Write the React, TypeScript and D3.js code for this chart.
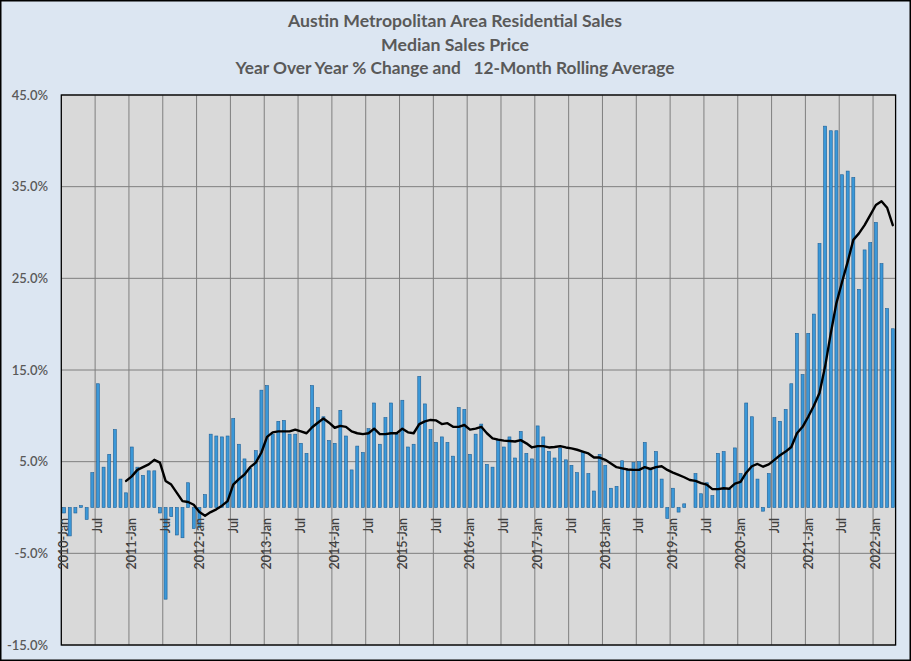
import React from "react";
import * as d3 from "d3";

// ---- data ----
const years = [2010, 2011, 2012, 2013, 2014, 2015, 2016, 2017, 2018, 2019, 2020, 2021, 2022];
const monthNames = ["Jan", "Feb", "Mar", "Apr", "May", "Jun", "Jul", "Aug", "Sep", "Oct", "Nov", "Dec"];

// Year-over-year % change of median sales price (monthly, 2010-Jan .. 2022-Apr)
const yoyChange = [
  -0.6, -3.1, -0.6, 0.2, -1.3, 3.8, 13.5, 4.4, 5.8, 8.5, 3.1, 1.6,
  6.6, 4.4, 3.5, 4.0, 4.0, -0.6, -10.0, -1.0, -3.0, -3.3, 2.7, -2.3,
  -2.2, 1.4, 8.0, 7.8, 7.7, 7.8, 9.7, 6.9, 5.3, 4.3, 6.2, 12.8,
  13.3, 8.0, 9.4, 9.5, 8.0, 8.0, 7.0, 5.9, 13.3, 10.9, 9.9, 7.3,
  7.0, 10.6, 7.8, 4.1, 6.7, 6.0, 8.6, 11.4, 6.9, 9.8, 11.4, 8.0,
  11.7, 6.6, 6.9, 14.3, 11.3, 8.5, 7.1, 7.7, 7.1, 5.6, 10.9, 10.7,
  5.8, 8.0, 9.1, 4.7, 4.4, 7.3, 6.6, 7.7, 5.4, 8.3, 5.9, 5.3,
  8.9, 7.7, 6.1, 5.4, 6.5, 5.2, 4.6, 3.8, 6.1, 3.7, 1.8, 5.8,
  4.6, 2.1, 2.3, 5.1, 4.1, 4.9, 5.0, 7.1, 4.2, 6.1, 3.1, -1.2,
  2.1, -0.5, 0.4, 0.0, 3.7, 1.5, 2.7, 1.3, 5.9, 6.1, 2.0, 6.5,
  3.7, 11.4, 9.9, 3.1, -0.4, 3.7, 9.8, 9.4, 10.7, 13.5, 19.0, 14.5,
  19.0, 21.1, 28.8, 41.6, 41.1, 41.1, 36.3, 36.7, 36.0, 23.8, 28.1, 28.9,
  31.1, 26.6, 21.7, 19.5,
];

// 12-month rolling average, starting at 2010-Dec (index 11)
const rollingStartIndex = 11;
const rollingAvg = [
  2.9,
  3.4, 4.1, 4.4, 4.7, 5.2, 4.9, 2.9, 2.5, 1.6, 0.7, 0.6, 0.3,
  -0.5, -0.9, -0.5, -0.2, 0.2, 0.7, 2.5, 3.1, 3.6, 4.4, 4.9, 6.0,
  7.7, 8.2, 8.3, 8.3, 8.3, 8.5, 8.3, 8.1, 8.75, 9.25, 9.7, 9.25,
  8.7, 8.9, 8.8, 8.3, 8.1, 8.0, 8.1, 8.6, 8.0, 8.0, 8.1, 8.1,
  8.6, 8.2, 8.1, 9.1, 9.4, 9.55, 9.5, 9.1, 9.2, 8.8, 8.8, 9.0,
  8.5, 8.6, 8.8, 8.1, 7.55, 7.4, 7.3, 7.25, 7.2, 7.35, 7.0, 6.55,
  6.7, 6.7, 6.55, 6.6, 6.7, 6.55, 6.45, 6.3, 6.1, 5.9, 5.45, 5.45,
  5.2, 4.8, 4.4, 4.27, 4.15, 4.1, 4.1, 4.4, 4.2, 4.4, 4.5, 4.1,
  3.8, 3.55, 3.3, 3.0, 2.9, 2.65, 2.5, 2.0, 2.0, 2.1, 2.05, 2.6,
  2.8, 3.8, 4.5, 4.75, 4.45, 4.7, 5.2, 5.7, 6.1, 6.6, 8.1, 8.8,
  9.9, 11.1, 12.5, 15.4, 19.0, 22.3, 24.6, 26.8, 29.2, 29.9, 30.8, 31.9,
  33.0, 33.4, 32.7, 30.8,
];

const yTicks = [-15, -5, 5, 15, 25, 35, 45];
const titleLines = [
  "Austin Metropolitan Area Residential Sales",
  "Median Sales Price",
  "Year Over Year % Change and   12-Month Rolling Average",
];

const categories = years
  .flatMap((y) => monthNames.map((m) => `${y}-${m}`))
  .slice(0, yoyChange.length);

// ---- layout ----
const W = 911;
const H = 661;
const plot = { left: 61.3, right: 895.6, top: 95, bottom: 645 };
const titleLayout = [
  { y: 27, len: 334 },
  { y: 51, len: 148 },
  { y: 74, len: 439 },
];

export default function App() {
  const x = d3
    .scaleBand<string>()
    .domain(categories)
    .range([plot.left, plot.right])
    .paddingInner(0.47)
    .paddingOuter(0.235);
  const step = x.step();
  const bw = x.bandwidth();
  const y = d3.scaleLinear().domain([-15, 45]).range([plot.bottom, plot.top]);

  const cx = (i: number) => (x(categories[i]) as number) + bw / 2;

  const gridX = d3.range(6, categories.length, 6).map((i) => plot.left + i * step);

  const tickIdx = d3.range(0, categories.length, 6);
  const tickLabel = (i: number) => {
    const [yr, m] = categories[i].split("-");
    return m === "Jan" ? `${yr}-Jan` : m;
  };

  const linePts = rollingAvg.map((v, k) => [cx(k + rollingStartIndex), y(v)] as [number, number]);
  const lineGen = d3.line<[number, number]>().x((d) => d[0]).y((d) => d[1]);

  const font = "Lato, 'Open Sans', sans-serif";

  return (
    <svg
      width={W}
      height={H}
      style={{ position: "fixed", left: 0, top: 0, display: "block" }}
      xmlns="http://www.w3.org/2000/svg"
    >
      <rect x={0.75} y={0.75} width={W - 1.5} height={H - 1.5} fill="#DCE6F2" stroke="#000" strokeWidth={1.5} />

      {titleLines.map((t, i) => (
        <text
          key={i}
          x={455}
          y={titleLayout[i].y}
          textAnchor="middle"
          fontFamily={font}
          fontWeight={700}
          fontSize={17}
          fill="#595959"
          textLength={titleLayout[i].len}
          lengthAdjust="spacingAndGlyphs"
          style={{ whiteSpace: "pre" }}
        >
          {t}
        </text>
      ))}

      <rect
        x={plot.left}
        y={plot.top}
        width={plot.right - plot.left}
        height={plot.bottom - plot.top}
        fill="#D9D9D9"
      />

      {yTicks.map((t) => (
        <line key={`gy${t}`} x1={plot.left} x2={plot.right} y1={y(t)} y2={y(t)} stroke="#7F7F7F" strokeWidth={1} />
      ))}
      {gridX.map((gx, i) => (
        <line key={`gx${i}`} x1={gx} x2={gx} y1={plot.top} y2={plot.bottom} stroke="#7F7F7F" strokeWidth={1} />
      ))}

      {yoyChange.map((v, i) => (
        <rect
          key={`b${i}`}
          x={x(categories[i])}
          y={Math.min(y(v), y(0))}
          width={bw}
          height={Math.abs(y(v) - y(0))}
          fill="#3B98D8"
          stroke="#1D5F97"
          strokeWidth={0.6}
        />
      ))}

      <path d={lineGen(linePts) || ""} fill="none" stroke="#000" strokeWidth={2.4} strokeLinejoin="round" strokeLinecap="round" />

      <rect
        x={plot.left}
        y={plot.top}
        width={plot.right - plot.left}
        height={plot.bottom - plot.top}
        fill="none"
        stroke="#000"
        strokeWidth={1.3}
      />

      {yTicks.map((t) => (
        <text
          key={`yl${t}`}
          x={48}
          y={y(t)}
          dy="0.35em"
          textAnchor="end"
          fontFamily={font}
          fontWeight={600}
          fontSize={13}
          fill="#595959"
        >
          {`${t.toFixed(1)}%`}
        </text>
      ))}

      {tickIdx.map((i) => (
        <text
          key={`xl${i}`}
          transform={`translate(${cx(i)},${y(0) + 10.5}) rotate(-90)`}
          dy="0.35em"
          textAnchor="end"
          fontFamily={font}
          fontWeight={600}
          fontSize={12.5}
          fill="#404040"
        >
          {tickLabel(i)}
        </text>
      ))}
    </svg>
  );
}
